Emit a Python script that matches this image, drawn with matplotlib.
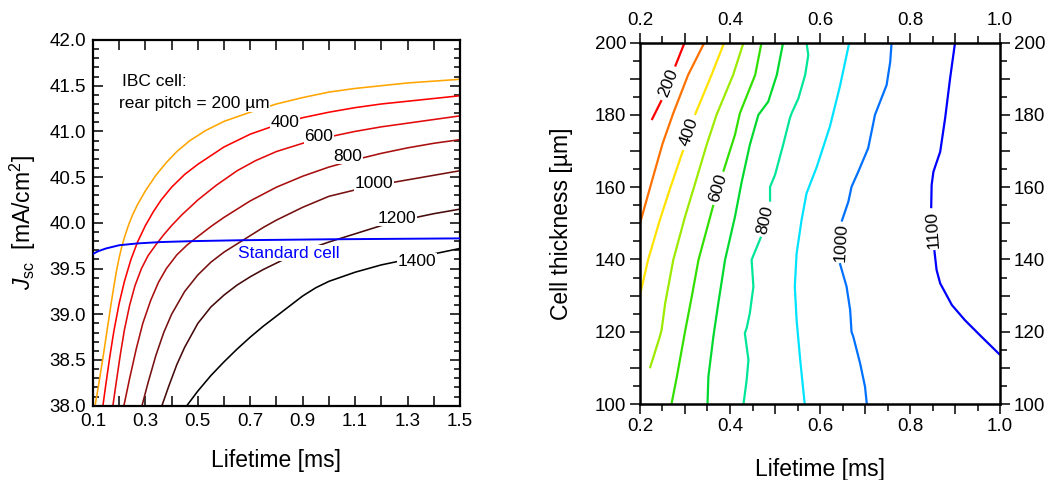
import numpy as np
import matplotlib
matplotlib.use('Agg')
import matplotlib.pyplot as plt
from matplotlib.colors import hsv_to_rgb

plt.rcParams['font.family'] = ['Liberation Sans', 'DejaVu Sans']
plt.rcParams['mathtext.fontset'] = 'custom'
plt.rcParams['mathtext.rm'] = 'Liberation Sans'
plt.rcParams['mathtext.it'] = 'Liberation Sans:italic'

nan = np.nan

# ---------------- Left panel data: Jsc vs lifetime for rear pitch ----------------
pitches = [200, 400, 600, 800, 1000, 1200, 1400]
x_p200 = [0.108, 0.12, 0.13, 0.14, 0.15, 0.16, 0.17, 0.18, 0.19, 0.2, 0.21, 0.22, 0.235, 0.25, 0.27, 0.3, 0.34, 0.38, 0.42, 0.47, 0.53, 0.6, 0.7, 0.8, 0.9, 1.0, 1.1, 1.2, 1.3, 1.4, 1.5]
y_p200 = [38.0, 38.2, 38.38, 38.56, 38.75, 38.94, 39.13, 39.31, 39.48, 39.62, 39.74, 39.84, 39.97, 40.08, 40.2, 40.35, 40.52, 40.66, 40.78, 40.9, 41.01, 41.11, 41.21, 41.3, 41.37, 41.43, 41.47, 41.5, 41.53, 41.55, 41.57]
x_p400 = [0.138, 0.15, 0.165, 0.18, 0.2, 0.22, 0.245, 0.27, 0.3, 0.33, 0.36, 0.4, 0.45, 0.5, 0.6, 0.7, 0.8, 0.9, 1.0, 1.1, 1.2, 1.3, 1.4, 1.5]
y_p400 = [38.0, 38.25, 38.55, 38.82, 39.12, 39.36, 39.6, 39.79, 39.97, 40.12, 40.25, 40.39, 40.53, 40.64, 40.83, 40.97, 41.07, 41.15, 41.21, 41.26, 41.3, 41.33, 41.36, 41.39]
x_p600 = [0.176, 0.19, 0.205, 0.22, 0.24, 0.26, 0.285, 0.31, 0.34, 0.37, 0.4, 0.44, 0.5, 0.57, 0.65, 0.72, 0.8, 0.9, 1.0, 1.1, 1.2, 1.3, 1.4, 1.5]
y_p600 = [38.0, 38.28, 38.57, 38.83, 39.1, 39.31, 39.5, 39.64, 39.76, 39.87, 39.97, 40.09, 40.25, 40.41, 40.57, 40.68, 40.78, 40.87, 40.94, 41.0, 41.05, 41.09, 41.13, 41.17]
x_p800 = [0.218, 0.24, 0.265, 0.29, 0.32, 0.35, 0.38, 0.42, 0.46, 0.5, 0.55, 0.6, 0.7, 0.8, 0.9, 1.0, 1.1, 1.2, 1.3, 1.4, 1.5]
y_p800 = [38.0, 38.3, 38.62, 38.9, 39.15, 39.35, 39.5, 39.65, 39.76, 39.85, 39.96, 40.06, 40.24, 40.39, 40.51, 40.61, 40.69, 40.76, 40.82, 40.87, 40.91]
x_p1000 = [0.287, 0.31, 0.34, 0.37, 0.4, 0.45, 0.5, 0.55, 0.6, 0.65, 0.7, 0.75, 0.8, 0.9, 1.0, 1.1, 1.2, 1.3, 1.4, 1.5]
y_p1000 = [38.0, 38.25, 38.55, 38.8, 39.0, 39.25, 39.43, 39.57, 39.68, 39.77, 39.86, 39.95, 40.03, 40.17, 40.29, 40.36, 40.42, 40.47, 40.52, 40.57]
x_p1200 = [0.363, 0.39, 0.42, 0.45, 0.5, 0.55, 0.6, 0.65, 0.7, 0.75, 0.8, 0.85, 0.9, 0.95, 1.0, 1.1, 1.2, 1.3, 1.4, 1.5]
y_p1200 = [38.0, 38.22, 38.45, 38.64, 38.9, 39.08, 39.21, 39.32, 39.41, 39.49, 39.56, 39.63, 39.69, 39.74, 39.79, 39.88, 39.97, 40.04, 40.1, 40.15]
x_p1400 = [0.458, 0.5, 0.55, 0.6, 0.65, 0.7, 0.75, 0.8, 0.85, 0.9, 0.95, 1.0, 1.1, 1.2, 1.3, 1.4, 1.5]
y_p1400 = [38.0, 38.16, 38.33, 38.48, 38.62, 38.75, 38.87, 38.98, 39.09, 39.2, 39.29, 39.36, 39.46, 39.54, 39.6, 39.66, 39.72]
std_x = [0.1, 0.12, 0.15, 0.2, 0.27, 0.36, 0.48, 0.67, 1.0, 1.5]
std_y = [39.66, 39.69, 39.72, 39.755, 39.775, 39.79, 39.80, 39.81, 39.82, 39.83]

left_xticks = [0.1, 0.2, 0.3, 0.4, 0.5, 0.6, 0.7, 0.8, 0.9, 1.0, 1.1, 1.2, 1.3, 1.4, 1.5]
left_xticklabels = ['0.1', '', '0.3', '', '0.5', '', '0.7', '', '0.9', '', '1.1', '', '1.3', '', '1.5']
left_yticks = [38.0, 38.5, 39.0, 39.5, 40.0, 40.5, 41.0, 41.5, 42.0]
left_yticklabels = ['38.0', '38.5', '39.0', '39.5', '40.0', '40.5', '41.0', '41.5', '42.0']

# ---------------- Right panel data: contour lines (levels) ----------------
levels = [200, 300, 400, 500, 600, 700, 800, 900, 1000, 1100]
c200_x = [0.299, 0.278, nan, 0.248, 0.226]
c200_y = [200, 193.4, nan, 184.1, 178.6]
c300_x = [0.343, 0.307, 0.274, 0.25, 0.226, 0.2]
c300_y = [200, 191.1, 180.5, 172, 161.5, 150]
c400_x = [0.387, 0.359, 0.322, nan, 0.296, 0.267, 0.244, 0.218, 0.2]
c400_y = [200, 191.1, 180, nan, 170.3, 159.7, 150.9, 139.9, 130.2]
c500_x = [0.43, 0.407, 0.37, 0.348, 0.326, 0.3, 0.274, 0.256, 0.248, 0.244, 0.222]
c500_y = [200, 191.1, 180, 171.7, 162.5, 151.8, 139.9, 127.9, 120.5, 118.6, 109.9]
c600_x = [0.47, 0.456, 0.422, 0.411, 0.385, nan, 0.363, 0.352, 0.33, 0.315, 0.3, 0.282, 0.27]
c600_y = [200, 191.1, 180.5, 174.5, 164.3, nan, 155.1, 150, 139.9, 129.7, 120, 107.6, 100]
c700_x = [0.518, 0.504, 0.485, 0.463, 0.444, 0.426, 0.411, 0.389, 0.374, 0.363, 0.352, 0.35]
c700_y = [200, 191.1, 183.7, 180, 171.7, 161.5, 151.8, 139.9, 127.9, 118.6, 107.6, 100]
c800_x = [0.57, 0.574, 0.567, 0.552, 0.537, 0.533, 0.518, 0.5, 0.489, 0.489, nan, 0.469, 0.448, 0.452, 0.444, 0.437, 0.433, 0.441, 0.437, 0.43]
c800_y = [200, 196.6, 191.1, 184.6, 180.5, 179.1, 171.7, 163.4, 160.1, 156, nan, 146.3, 139.9, 132.5, 125.1, 121, 119.6, 112.2, 106.6, 100]
c900_x = [0.665, 0.644, 0.622, 0.593, 0.57, 0.559, 0.548, 0.544, 0.548, 0.556, 0.566]
c900_y = [200, 187.8, 176.8, 165.7, 158.3, 150.9, 141.7, 132.5, 123.2, 112.2, 100]
c1000_x = [0.759, 0.756, 0.748, 0.722, 0.719, 0.707, 0.685, 0.67, 0.663, 0.648, nan, 0.644, 0.659, 0.667, 0.67, 0.674, 0.689, 0.7, 0.704]
c1000_y = [200, 194.7, 188.3, 180, 178.1, 170.8, 164.3, 160.1, 156, 150.5, nan, 139, 132.5, 126, 120, 118.6, 111.3, 104.8, 100]
c1100_x = [0.9, 0.889, 0.878, 0.867, 0.852, 0.848, 0.847, nan, 0.854, 0.859, 0.867, 0.893, 0.922, 0.959, 1.0]
c1100_y = [200, 190.1, 179.1, 169.8, 164.3, 160.6, 154.2, nan, 142.6, 137.1, 133.4, 127.4, 123.2, 118.6, 113.6]
labeled_levels = [200, 400, 600, 800, 1000, 1100]

right_xticks = [0.2, 0.3, 0.4, 0.5, 0.6, 0.7, 0.8, 0.9, 1.0]
right_xticklabels = ['0.2', '', '0.4', '', '0.6', '', '0.8', '', '1.0']
right_yticks = [100, 110, 120, 130, 140, 150, 160, 170, 180, 190, 200]
right_yticklabels = ['100', '', '120', '', '140', '', '160', '', '180', '', '200']

# ---------------- Figure ----------------
fig = plt.figure(figsize=(10.54, 4.8), dpi=100)
axL = fig.add_axes([0.0882, 0.1548, 0.3482, 0.7619])
axR = fig.add_axes([0.6072, 0.1583, 0.3416, 0.7527])

TICK = 13.5
LAB = 16.5
INL = 12.5

# Left panel
left_x = [x_p200, x_p400, x_p600, x_p800, x_p1000, x_p1200, x_p1400]
left_y = [y_p200, y_p400, y_p600, y_p800, y_p1000, y_p1200, y_p1400]
left_colors = ['#FFA500', '#FF0000', '#E20A0A', '#A80E0E', '#761010', '#460A0A', '#000000']
for xs, ys, c in zip(left_x, left_y, left_colors):
    axL.plot(xs, ys, color=c, lw=1.15, zorder=2)
axL.plot(std_x, std_y, color='#0000FF', lw=1.4, zorder=5)

bb = dict(facecolor='white', edgecolor='none', pad=0.5)
lbl_pos = {400: (0.833, 41.10), 600: (0.962, 40.94), 800: (1.071, 40.73),
           1000: (1.172, 40.43), 1200: (1.26, 40.05), 1400: (1.336, 39.58)}
for p in pitches[1:]:
    xx, yy = lbl_pos[p]
    axL.text(xx, yy, str(p), fontsize=INL, ha='center', va='center', bbox=bb, zorder=4)
axL.text(0.21, 41.55, 'IBC cell:', fontsize=INL, ha='left', va='center')
axL.text(0.20, 41.30, 'rear pitch = %d µm' % pitches[0], fontsize=INL, ha='left', va='center', bbox=bb, zorder=4)
axL.text(0.653, 39.67, 'Standard cell', fontsize=INL, color='#0000FF', ha='left', va='center', bbox=bb, zorder=4)

axL.set_xlim(0.1, 1.5)
axL.set_ylim(38.0, 42.0)
axL.set_xticks(left_xticks, left_xticklabels)
axL.set_yticks(left_yticks, left_yticklabels)
axL.set_yticks(np.arange(38.0, 42.01, 0.1), minor=True)
axL.tick_params(which='both', direction='in', top=True, right=True, labelsize=TICK, width=1.1)
axL.tick_params(axis='x', which='major', length=7, pad=5)
axL.tick_params(axis='y', which='major', length=7, pad=5)
axL.tick_params(axis='y', which='minor', length=4)
for s in axL.spines.values():
    s.set_linewidth(1.6)
axL.set_xlabel('Lifetime [ms]', fontsize=LAB)
axL.set_ylabel(r'$J_{\rm sc}$  [mA/cm$^2$]', fontsize=LAB)
axL.xaxis.set_label_coords(0.5, -0.118)
axL.yaxis.set_label_coords(-0.15, 0.5)

# Right panel
cx = [c200_x, c300_x, c400_x, c500_x, c600_x, c700_x, c800_x, c900_x, c1000_x, c1100_x]
cy = [c200_y, c300_y, c400_y, c500_y, c600_y, c700_y, c800_y, c900_y, c1000_y, c1100_y]
hues = np.linspace(0, 2 / 3, len(levels))
vals = [1.0, 1.0, 1.0, 0.92, 0.88, 0.85, 0.9, 1.0, 1.0, 1.0]
for xs, ys, h, v in zip(cx, cy, hues, vals):
    col = hsv_to_rgb([h, 1.0, v])
    axR.plot(xs, ys, color=col, lw=1.6, solid_capstyle='butt')

r_lbl = {200: (0.263, 188.8, 68), 400: (0.309, 175.2, 71), 600: (0.374, 159.7, 73),
         800: (0.479, 151.0, 77), 1000: (0.646, 144.8, 87), 1100: (0.851, 148.4, 94)}
for lv in labeled_levels:
    xx, yy, rot = r_lbl[lv]
    axR.text(xx, yy, str(lv), fontsize=INL, rotation=rot, ha='center', va='center',
             rotation_mode='anchor')

axR.set_xlim(0.2, 1.0)
axR.set_ylim(100, 200)
axR.set_xticks(right_xticks, right_xticklabels)
axR.set_xticks(np.arange(0.25, 1.0, 0.1), minor=True)
axR.set_yticks(right_yticks, right_yticklabels)
axR.set_yticks(np.arange(105, 200, 10), minor=True)
axR.tick_params(which='both', direction='out', top=True, right=True, labeltop=True, labelright=True,
                labelsize=TICK, width=1.1)
axR.tick_params(which='major', length=7, pad=3)
axR.tick_params(which='minor', length=5)
for s in axR.spines.values():
    s.set_linewidth(1.8)
axR.set_xlabel('Lifetime [ms]', fontsize=LAB)
axR.set_ylabel('Cell thickness [µm]', fontsize=LAB)
axR.xaxis.set_label_coords(0.5, -0.149)
axR.yaxis.set_label_coords(-0.186, 0.5)

fig.savefig('out.png', dpi=100)
